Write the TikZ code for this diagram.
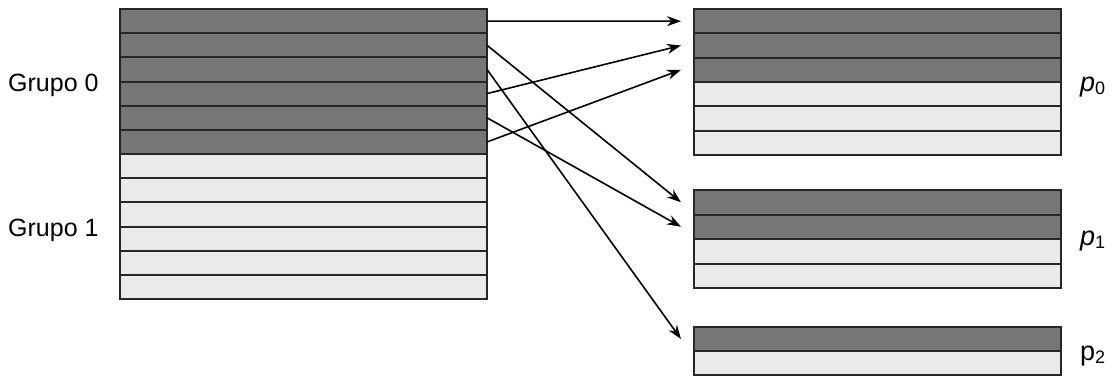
\documentclass[tikz,border=0pt]{standalone}
\usepackage{fontspec}
\setmainfont{Liberation Sans}
\usetikzlibrary{arrows.meta}
\definecolor{rowdark}{RGB}{118,118,118}
\definecolor{rowlight}{RGB}{234,234,234}
\begin{document}
\begin{tikzpicture}[x=1pt,y=-1pt,
  rowbox/.style={draw=black!85, line width=2pt, inner sep=0pt, outer sep=0pt, minimum width=367pt, anchor=north west},
  darkrow/.style={rowbox, fill=rowdark},
  lightrow/.style={rowbox, fill=rowlight},
  conn/.style={line width=1.6pt, -{Stealth[length=14pt,width=10pt]}},
  lbl/.style={inner sep=0pt, anchor=base west, font=\fontsize{25}{30}\selectfont}]
\useasboundingbox (0,0) rectangle (1117,376);
% left block
\foreach \i/\s in {0/darkrow,1/darkrow,2/darkrow,3/darkrow,4/darkrow,5/darkrow,6/lightrow,7/lightrow,8/lightrow,9/lightrow,10/lightrow,11/lightrow}{
  \pgfmathsetmacro\yy{9+24.17*\i}
  \node[\s, minimum height=24.17pt] (L\i) at (120,\yy) {};
}
% p0 block
\foreach \i/\s in {0/darkrow,1/darkrow,2/darkrow,3/lightrow,4/lightrow,5/lightrow}{
  \pgfmathsetmacro\yy{9+24.33*\i}
  \node[\s, minimum height=24.33pt] (A\i) at (694,\yy) {};
}
% p1 block
\foreach \i/\s in {0/darkrow,1/darkrow,2/lightrow,3/lightrow}{
  \pgfmathsetmacro\yy{190+24.5*\i}
  \node[\s, minimum height=24.5pt] (B\i) at (694,\yy) {};
}
% p2 block
\foreach \i/\s in {0/darkrow,1/lightrow}{
  \pgfmathsetmacro\yy{327+24*\i}
  \node[\s, minimum height=24pt] (C\i) at (694,\yy) {};
}
% connectors
\draw[conn] (L0.east) -- ([xshift=-13pt]A0.west);
\draw[conn] (L1.east) -- ([xshift=-13pt]B0.west);
\draw[conn] (L2.east) -- ([xshift=-13pt]C0.west);
\draw[conn] (L3.east) -- ([xshift=-13pt]A1.west);
\draw[conn] (L4.east) -- ([xshift=-13pt]B1.west);
\draw[conn] (L5.east) -- ([xshift=-13pt]A2.west);
% labels
\node[lbl] (g0) at (8,91) {Grupo 0};
\node[lbl] (g1) at (8,236) {Grupo 1};
\node[lbl, font=\fontsize{27}{30}\selectfont] (p0) at (1080,91) {\textit{p}\raisebox{-3pt}{\fontsize{18}{20}\selectfont 0}};
\node[lbl, font=\fontsize{27}{30}\selectfont] (p1) at (1080,245) {\textit{p}\raisebox{-3pt}{\fontsize{18}{20}\selectfont 1}};
\node[lbl, font=\fontsize{27}{30}\selectfont] (p2) at (1080,360) {p\raisebox{-3pt}{\fontsize{18}{20}\selectfont 2}};
\end{tikzpicture}
\end{document}
